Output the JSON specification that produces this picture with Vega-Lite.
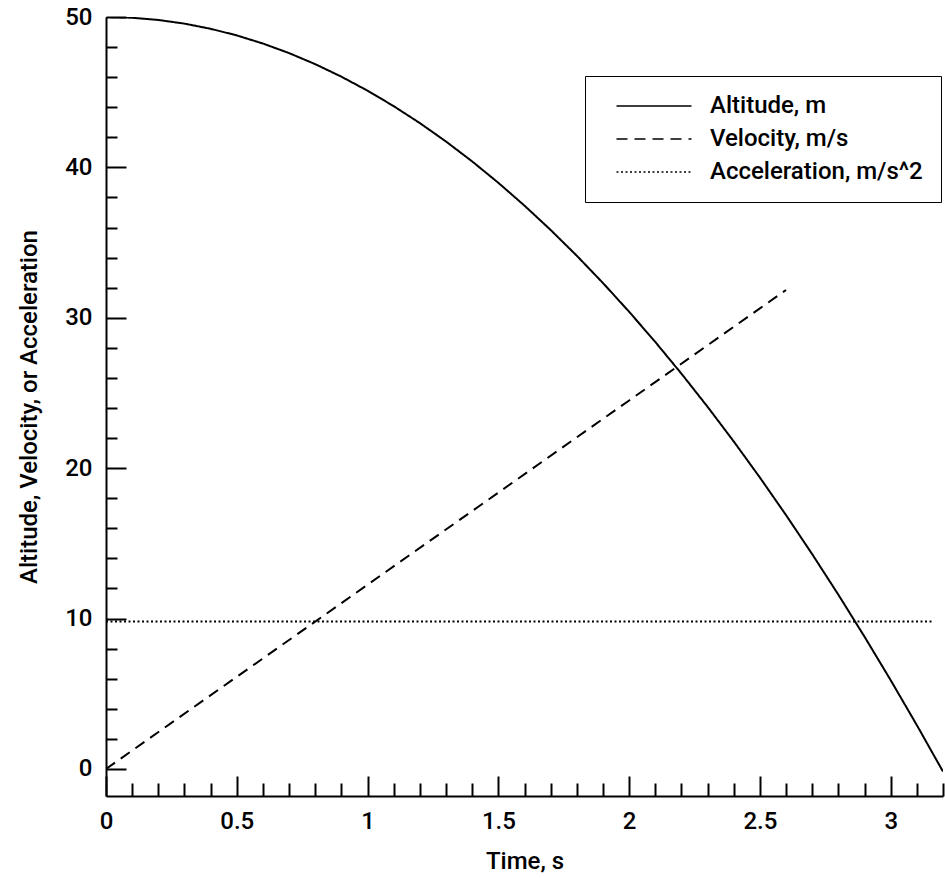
{
  "$schema": "https://vega.github.io/schema/vega-lite/v6.json",
  "autosize": {"type": "none"},
  "width": 837,
  "height": 779,
  "padding": {"left": 106, "top": 17, "right": 2, "bottom": 82},
  "background": "white",
  "config": {
    "view": {"stroke": null},
    "font": "Roboto, sans-serif",
    "axis": {
      "domainColor": "black",
      "domainWidth": 2,
      "tickColor": "black",
      "tickWidth": 2,
      "grid": false,
      "labelFont": "Roboto, sans-serif",
      "labelFontSize": 24,
      "labelFontWeight": 500,
      "labelColor": "black",
      "titleFont": "Roboto, sans-serif",
      "titleFontSize": 24,
      "titleFontWeight": 500,
      "titleColor": "black"
    }
  },
  "data": {
    "values": [
      {"series": "Altitude, m", "t": 0.0, "v": 50.0},
      {"series": "Altitude, m", "t": 0.1, "v": 49.951},
      {"series": "Altitude, m", "t": 0.2, "v": 49.804},
      {"series": "Altitude, m", "t": 0.3, "v": 49.559},
      {"series": "Altitude, m", "t": 0.4, "v": 49.216},
      {"series": "Altitude, m", "t": 0.5, "v": 48.775},
      {"series": "Altitude, m", "t": 0.6, "v": 48.236},
      {"series": "Altitude, m", "t": 0.7, "v": 47.599},
      {"series": "Altitude, m", "t": 0.8, "v": 46.864},
      {"series": "Altitude, m", "t": 0.9, "v": 46.031},
      {"series": "Altitude, m", "t": 1.0, "v": 45.1},
      {"series": "Altitude, m", "t": 1.1, "v": 44.071},
      {"series": "Altitude, m", "t": 1.2, "v": 42.944},
      {"series": "Altitude, m", "t": 1.3, "v": 41.719},
      {"series": "Altitude, m", "t": 1.4, "v": 40.396},
      {"series": "Altitude, m", "t": 1.5, "v": 38.975},
      {"series": "Altitude, m", "t": 1.6, "v": 37.456},
      {"series": "Altitude, m", "t": 1.7, "v": 35.839},
      {"series": "Altitude, m", "t": 1.8, "v": 34.124},
      {"series": "Altitude, m", "t": 1.9, "v": 32.311},
      {"series": "Altitude, m", "t": 2.0, "v": 30.4},
      {"series": "Altitude, m", "t": 2.1, "v": 28.391},
      {"series": "Altitude, m", "t": 2.2, "v": 26.284},
      {"series": "Altitude, m", "t": 2.3, "v": 24.079},
      {"series": "Altitude, m", "t": 2.4, "v": 21.776},
      {"series": "Altitude, m", "t": 2.5, "v": 19.375},
      {"series": "Altitude, m", "t": 2.6, "v": 16.876},
      {"series": "Altitude, m", "t": 2.7, "v": 14.279},
      {"series": "Altitude, m", "t": 2.8, "v": 11.584},
      {"series": "Altitude, m", "t": 2.9, "v": 8.791},
      {"series": "Altitude, m", "t": 3.0, "v": 5.9},
      {"series": "Altitude, m", "t": 3.1, "v": 2.911},
      {"series": "Altitude, m", "t": 3.2, "v": -0.176},
      {"series": "Velocity, m/s", "t": 0.0, "v": 0.0},
      {"series": "Velocity, m/s", "t": 0.5, "v": 6.125},
      {"series": "Velocity, m/s", "t": 1.0, "v": 12.25},
      {"series": "Velocity, m/s", "t": 1.5, "v": 18.375},
      {"series": "Velocity, m/s", "t": 2.0, "v": 24.5},
      {"series": "Velocity, m/s", "t": 2.5, "v": 30.625},
      {"series": "Velocity, m/s", "t": 2.6, "v": 31.85},
      {"series": "Acceleration, m/s^2", "t": 0.0, "v": 9.8},
      {"series": "Acceleration, m/s^2", "t": 1.0, "v": 9.8},
      {"series": "Acceleration, m/s^2", "t": 2.0, "v": 9.8},
      {"series": "Acceleration, m/s^2", "t": 3.16, "v": 9.8}
    ]
  },
  "mark": {"type": "line", "color": "black", "strokeWidth": 2, "clip": true},
  "encoding": {
    "x": {
      "field": "t",
      "type": "quantitative",
      "scale": {"domain": [0, 3.2], "nice": false, "zero": false},
      "axis": {
        "title": "Time, s",
        "values": [0,0.1,0.2,0.3,0.4,0.5,0.6,0.7,0.8,0.9,1,1.1,1.2,1.3,1.4,1.5,1.6,1.7,1.8,1.9,2,2.1,2.2,2.3,2.4,2.5,2.6,2.7,2.8,2.9,3,3.1,3.2],
        "format": "~g",
        "labelExpr": "abs(datum.value*2 - round(datum.value*2)) < 0.001 ? datum.label : ''",
        "labelFlush": false,
        "labelOverlap": false,
        "tickSize": {"condition": {"test": "abs(datum.value*2 - round(datum.value*2)) < 0.001", "value": -20}, "value": -13},
        "labelPadding": 33,
        "titlePadding": 9
      }
    },
    "y": {
      "field": "v",
      "type": "quantitative",
      "scale": {"domain": [-1.8, 50], "nice": false, "zero": false},
      "axis": {
        "title": "Altitude, Velocity, or Acceleration",
        "values": [0,2,4,6,8,10,12,14,16,18,20,22,24,26,28,30,32,34,36,38,40,42,44,46,48,50],
        "labelExpr": "datum.value % 10 === 0 ? datum.label : ''",
        "labelFlush": false,
        "labelOverlap": false,
        "tickSize": {"condition": {"test": "datum.value % 10 === 0", "value": -20}, "value": -11},
        "labelPadding": 34,
        "titlePadding": 23
      }
    },
    "strokeDash": {
      "field": "series",
      "type": "nominal",
      "scale": {
        "domain": ["Altitude, m", "Velocity, m/s", "Acceleration, m/s^2"],
        "range": [[1, 0], [11, 7], [2, 2.5]]
      },
      "legend": {
        "title": null,
        "orient": "none",
        "legendX": 479,
        "legendY": 59,
        "symbolType": "M-3.75,0L3.75,0",
        "symbolSize": 400,
        "symbolStrokeColor": "black",
        "symbolFillColor": "transparent",
        "symbolStrokeWidth": 1.5,
        "symbolOffset": 39,
        "labelOffset": 44,
        "labelFont": "Roboto, sans-serif",
        "labelFontSize": 24,
        "labelFontWeight": 500,
        "labelColor": "black",
        "labelLimit": 400,
        "padding": 18,
        "rowPadding": 9,
        "strokeColor": "black",
        "fillColor": "white",
        "cornerRadius": 0
      }
    }
  }
}
